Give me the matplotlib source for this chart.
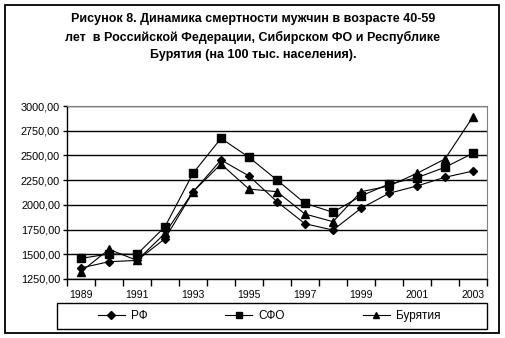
"""Динамика смертности мужчин 40-59 лет: РФ, Сибирский ФО и Бурятия."""

import matplotlib

matplotlib.use("Agg")
import matplotlib.pyplot as plt
import numpy as np
from matplotlib.patches import Rectangle
from matplotlib.ticker import FuncFormatter

years = list(range(1989, 2004))
rf = [1362, 1425, 1438, 1658, 2130, 2454, 2292, 2032, 1809, 1745, 1965, 2117, 2191, 2279, 2342]
sfo = [1459, 1503, 1500, 1779, 2319, 2673, 2481, 2251, 2016, 1925, 2090, 2211, 2275, 2380, 2522]
buryatia = [1324, 1550, 1438, 1712, 2133, 2413, 2160, 2133, 1907, 1830, 2133, 2191, 2319, 2464, 2892]
series_labels = ["РФ", "СФО", "Бурятия"]

title = ("Рисунок 8. Динамика смертности мужчин в возрасте 40-59\n"
         "лет  в Российской Федерации, Сибирском ФО и Республике\n"
         "Бурятия (на 100 тыс. населения).")

plt.rcParams["font.family"] = ["Liberation Sans", "DejaVu Sans"]

W, H = 506, 338
fig = plt.figure(figsize=(W / 100, H / 100), dpi=100)


def px_box(x0, y0, x1, y1):
    """Пиксельный прямоугольник (сверху вниз) в долях фигуры."""
    return [x0 / W, 1 - y1 / H, (x1 - x0) / W, (y1 - y0) / H]


def frame(x0, y0, x1, y1, lw):
    l, b, w, h = px_box(x0, y0, x1, y1)
    fig.patches.append(Rectangle((l, b), w, h, transform=fig.transFigure,
                                 fill=False, edgecolor="black", linewidth=lw))


# внешняя рамка диаграммы и рамка легенды
frame(5, 5, 499, 333, 1.3)
frame(57, 303, 487, 329, 1.0)

fig.text(0.5, 1 - 37 / H, title, ha="center", va="center",
         fontsize=9, fontweight="bold", linespacing=1.55)

ax = fig.add_axes(px_box(67, 106, 487, 279))
x = np.arange(len(years))
styles = [("D", 4.5), ("s", 5.5), ("^", 6)]
handles = []
for values, label, (marker, size) in zip((rf, sfo, buryatia), series_labels, styles):
    h, = ax.plot(x, values, color="black", linewidth=0.8, marker=marker,
                 markersize=size, markerfacecolor="black",
                 markeredgecolor="black", label=label)
    handles.append(h)

ax.set_xlim(-0.5, len(years) - 0.5)
ax.set_ylim(1250, 3000)
ax.set_yticks(np.arange(1250, 3001, 250))
ax.yaxis.set_major_formatter(FuncFormatter(lambda v, _: f"{v:.2f}".replace(".", ",")))
ax.yaxis.grid(True, color="black", linewidth=1.0)
ax.set_axisbelow(True)

# деления по границам категорий, подписи через год
ax.set_xticks(np.arange(-0.5, len(years), 1.0))
ax.set_xticklabels([])
ax.set_xticks(x[::2], minor=True)
ax.set_xticklabels([str(y) for y in years[::2]], minor=True)
ax.tick_params(axis="x", which="major", length=5, width=1, direction="out")
ax.tick_params(axis="x", which="minor", length=0, pad=8, labelsize=7.5)
ax.tick_params(axis="y", length=3, width=1, labelsize=7.8, pad=2)

for side in ("top", "right"):
    ax.spines[side].set_color("#808080")
for side in ("left", "bottom"):
    ax.spines[side].set_color("black")
    ax.spines[side].set_linewidth(1.0)

fig.legend(handles=handles, loc="center", ncol=3,
           bbox_to_anchor=(269 / W, 1 - 316 / H), bbox_transform=fig.transFigure,
           fontsize=8.5, frameon=False, handlelength=2.3, handletextpad=0.5,
           columnspacing=6.6, borderpad=0, markerscale=0.8)

fig.savefig("out.png", dpi=100)
